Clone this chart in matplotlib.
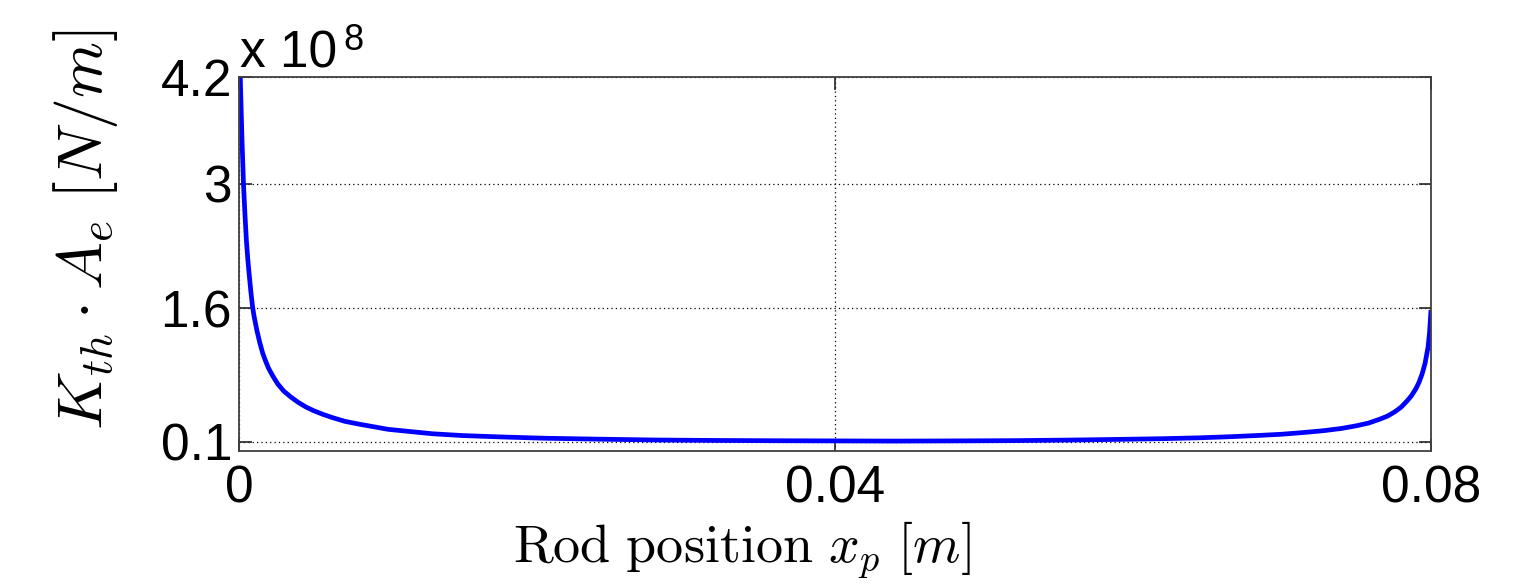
import matplotlib
matplotlib.use("Agg")
import matplotlib.pyplot as plt

plt.rcParams['mathtext.fontset'] = 'cm'
plt.rcParams['font.family'] = ['Liberation Sans', 'DejaVu Sans']

# Rod position [m]
x_pos = [0.0000, 0.0001, 0.0002, 0.0003, 0.0004, 0.0005, 0.0006, 0.0007, 0.0008,
         0.0009, 0.0010, 0.0012, 0.0014, 0.0016, 0.0018, 0.0020, 0.0023, 0.0026,
         0.0030, 0.0035, 0.0040, 0.0045, 0.0050, 0.0056, 0.0063, 0.0071, 0.0080,
         0.0090, 0.0100, 0.0115, 0.0130, 0.0150, 0.0175, 0.0205, 0.0240, 0.0280,
         0.0320, 0.0360, 0.0400, 0.0440, 0.0480, 0.0520, 0.0560, 0.0590, 0.0620,
         0.0645, 0.0665, 0.0685, 0.0700, 0.0715, 0.0728, 0.0740, 0.0750, 0.0758,
         0.0765, 0.0771, 0.0776, 0.0780, 0.0784, 0.0787, 0.0790, 0.0792, 0.0794,
         0.0796, 0.0798, 0.0799, 0.0800]
# K_th * A_e [x 1e8 N/m]
k_vals = [5.00, 4.10, 3.50, 3.00, 2.65, 2.35, 2.13, 1.95, 1.78,
          1.63, 1.52, 1.35, 1.21, 1.09, 1.00, 0.92, 0.83, 0.75,
          0.67, 0.60, 0.54, 0.49, 0.45, 0.41, 0.37, 0.33, 0.30,
          0.27, 0.24, 0.215, 0.19, 0.17, 0.155, 0.14, 0.13, 0.12,
          0.115, 0.112, 0.11, 0.108, 0.11, 0.113, 0.12, 0.127, 0.135,
          0.145, 0.157, 0.172, 0.185, 0.205, 0.225, 0.25, 0.28, 0.31,
          0.35, 0.39, 0.44, 0.49, 0.56, 0.62, 0.70, 0.77, 0.86,
          0.98, 1.16, 1.32, 1.58]

x_ticks = [0, 0.04, 0.08]
x_ticklabels = ['0', '0.04', '0.08']
y_ticks = [0.1, 1.6, 3, 4.2]
y_ticklabels = ['0.1', '1.6', '3', '4.2']

fig = plt.figure(figsize=(15.27, 5.84), dpi=100)
ax = fig.add_axes([239/1527, 1-450.7/584, (1431-239)/1527, (450.7-76.7)/584])

ax.plot(x_pos, k_vals, color='#0000ff', lw=3.4, solid_capstyle='butt')
ax.set_xlim(0, 0.08)
ax.set_ylim(0, 4.2)
ax.set_xticks(x_ticks)
ax.set_xticklabels(x_ticklabels)
ax.set_yticks(y_ticks)
ax.set_yticklabels(y_ticklabels)
ax.grid(True, color='black', linestyle=(0, (1, 2.5)), linewidth=0.9)
ax.tick_params(direction='in', length=9, width=1.2, colors='#262626',
               labelcolor='black', labelsize=37, top=True, right=True,
               pad=5)
ax.tick_params(axis='x', pad=10)
for s in ax.spines.values():
    s.set_color('#404040')
    s.set_linewidth(1.3)

fig.text(240/1527, 1-68/584, 'x 10', fontsize=37, ha='left', va='baseline')
fig.text(343/1527, 1-50/584, '8', fontsize=26, ha='left', va='baseline')

fig.text(742/1527, 1-580/584, r'$\mathrm{Rod\ position}\ x_p\ [m]$',
         fontsize=39, ha='center', va='bottom')
fig.text(86/1527, 1-230/584, r'$K_{th}\cdot A_e\ [N/m]$',
         fontsize=46, ha='center', va='center', rotation=90)

fig.savefig('out.png', dpi=100)
